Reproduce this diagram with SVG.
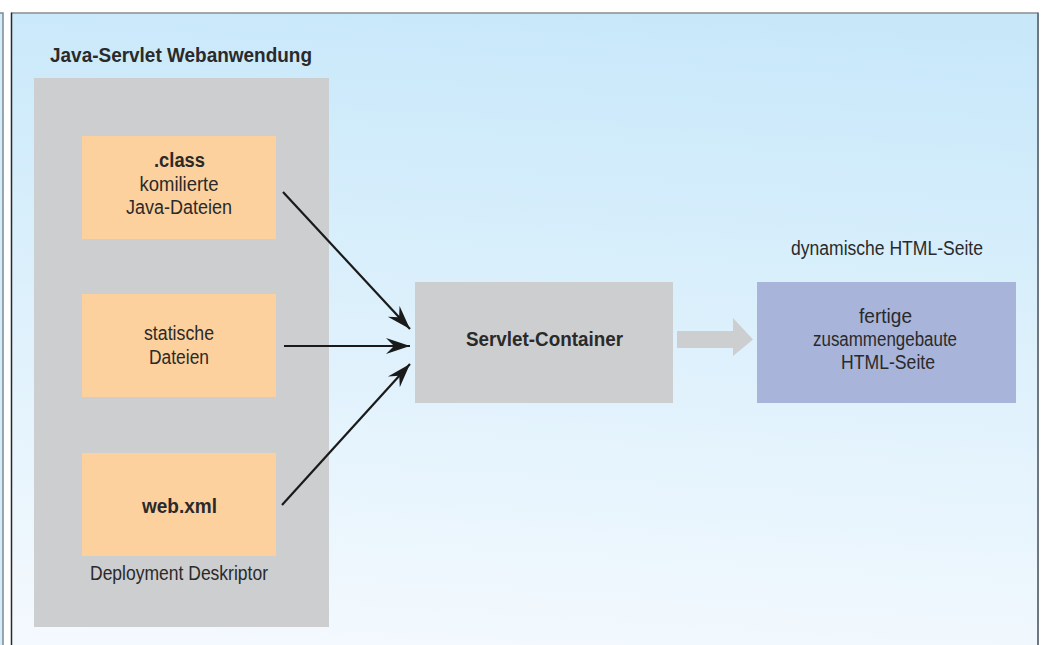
<svg xmlns="http://www.w3.org/2000/svg" width="1049" height="645" viewBox="0 0 1049 645">
<style>
.t{font-family:"Liberation Sans Narrow","Liberation Sans",Arial,sans-serif;fill:#2a2a2a;font-size:20px;text-anchor:middle}
.b{font-weight:bold}
.conn{stroke:#1a1a1a;stroke-width:2.2;fill:none;marker-end:url(#ah)}
</style>
<defs>
<linearGradient id="bg" x1="0.55" y1="0" x2="0.45" y2="1">
<stop offset="0" stop-color="#c8e8fa"/>
<stop offset="1" stop-color="#f3f9fe"/>
</linearGradient>
<marker id="ah" markerUnits="userSpaceOnUse" viewBox="-24 -9 26 18" refX="0" refY="0" markerWidth="26" markerHeight="18" orient="auto">
<path d="M0,0 L-24,-8 L-16,0 L-24,8 Z" fill="#1a1a1a"/>
</marker>
</defs>
<rect width="1049" height="645" fill="#ffffff"/>
<rect x="-5" y="13" width="8" height="640" fill="#d3ecfa" stroke="#808890" stroke-width="1.5"/>
<rect x="11.5" y="13" width="1026.5" height="640" fill="url(#bg)" stroke="none"/>
<line x1="11.5" y1="13" x2="1038" y2="13" stroke="#8a8c90" stroke-width="1.5"/>
<line x1="11.5" y1="12.5" x2="11.5" y2="645" stroke="#2a2a2a" stroke-width="1.5"/>
<line x1="1038" y1="12.5" x2="1038" y2="645" stroke="#6f7880" stroke-width="2"/>

<g id="webapp">
<text class="t b" x="181" y="62" textLength="262" lengthAdjust="spacingAndGlyphs">Java-Servlet Webanwendung</text>
<rect x="34" y="78" width="295" height="549" fill="#cdced0"/>
</g>
<g id="classfiles">
<rect x="82" y="136" width="194" height="103" fill="#fdd19d"/>
<text class="t b" x="179.5" y="167" textLength="51" lengthAdjust="spacingAndGlyphs">.class</text>
<text class="t" x="179" y="191" textLength="79" lengthAdjust="spacingAndGlyphs">komilierte</text>
<text class="t" x="179" y="214" textLength="106" lengthAdjust="spacingAndGlyphs">Java-Dateien</text>
</g>
<g id="static">
<rect x="82" y="294" width="194" height="103" fill="#fdd19d"/>
<text class="t" x="179" y="340" textLength="70" lengthAdjust="spacingAndGlyphs">statische</text>
<text class="t" x="179" y="364" textLength="60" lengthAdjust="spacingAndGlyphs">Dateien</text>
</g>
<g id="webxml">
<rect x="82" y="453" width="194" height="103" fill="#fdd19d"/>
<text class="t b" x="179.5" y="513" textLength="75" lengthAdjust="spacingAndGlyphs">web.xml</text>
<text class="t" x="179" y="580" textLength="178" lengthAdjust="spacingAndGlyphs">Deployment Deskriptor</text>
</g>
<g id="container">
<rect x="415" y="282" width="258" height="121" fill="#cdced0"/>
<text class="t b" x="544.5" y="346" textLength="157" lengthAdjust="spacingAndGlyphs">Servlet-Container</text>
</g>
<g id="html">
<text class="t" x="887" y="255" textLength="192" lengthAdjust="spacingAndGlyphs">dynamische HTML-Seite</text>
<rect x="757" y="282" width="259" height="121" fill="#a8b4d9"/>
<text class="t" x="885.5" y="323" textLength="53" lengthAdjust="spacingAndGlyphs">fertige</text>
<text class="t" x="885" y="346" textLength="144" lengthAdjust="spacingAndGlyphs">zusammengebaute</text>
<text class="t" x="888" y="369" textLength="94" lengthAdjust="spacingAndGlyphs">HTML-Seite</text>
</g>
<g id="connectors">
<line class="conn" x1="283" y1="192" x2="410" y2="329"/>
<line class="conn" x1="284" y1="346" x2="410" y2="346"/>
<line class="conn" x1="282" y1="505" x2="410" y2="364"/>
<path d="M677,331 L733,331 L733,318 L753,339.5 L733,356 L733,348 L677,348 Z" fill="#cdced0"/>
</g>
</svg>
